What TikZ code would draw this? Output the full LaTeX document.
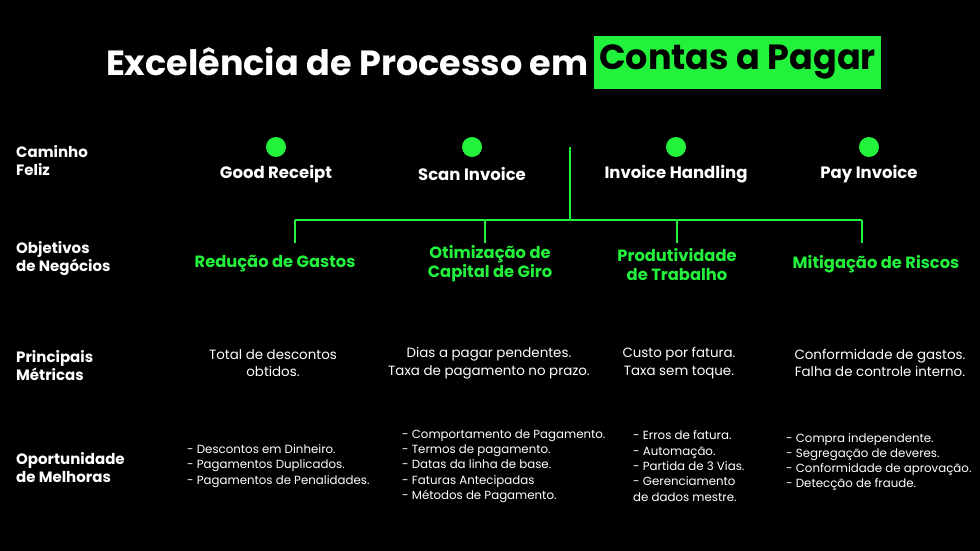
\documentclass[tikz,border=0pt]{standalone}
\usepackage{fontspec}
\setmainfont{Poppins}
\usepackage{tikz}
\definecolor{neon}{HTML}{22F23C}
\tikzset{
  row/.style={font=\bfseries\fontsize{15}{18}\selectfont, text=white, align=left, anchor=west, inner sep=0pt},
  step label/.style={font=\bfseries\fontsize{16.5}{20}\selectfont, text=white},
  goal/.style={font=\bfseries\fontsize{16.3}{19}\selectfont, text=neon, align=center},
  metric/.style={font=\fontsize{13.4}{17.5}\selectfont, text=white, align=center},
  todo/.style={font=\fontsize{11.8}{15.3}\selectfont, text=white, align=left, anchor=west, inner sep=0pt},
  dot/.style={circle, fill=neon, minimum size=20pt, inner sep=0pt},
  link/.style={neon, line width=1.5pt}
}
\begin{document}
\begin{tikzpicture}[x=1pt, y=-1pt]
  \fill[black] (0,0) rectangle (980,551);
  \useasboundingbox (0,0) rectangle (980,551);
  % title
  \fill[neon] (594,36) rectangle (881,89);
  \node[font=\bfseries\fontsize{35}{40}\selectfont, text=white, anchor=east] (title) at (592,62) {Excelência de Processo em};
  \node[font=\bfseries\fontsize{35}{40}\selectfont, text=black] (title-hl) at (737.5,62) {Contas a Pagar};
  % row headings
  \node[row] (h-path) at (16,161) {Caminho\\Feliz};
  \node[row] (h-goals) at (16,259) {Objetivos\\de Negócios};
  \node[row] (h-metrics) at (16,366) {Principais\\Métricas};
  \node[row] (h-ops) at (16,468) {Oportunidade\\de Melhoras};
  % happy path
  \foreach \x/\name/\txt in {276/gr/Good Receipt, 472/si/Scan Invoice, 676/ih/Invoice Handling, 869/pi/Pay Invoice} {
    \node[dot] (dot-\name) at (\x,147) {};
    \node[step label] (step-\name) at (\x,174) {\txt};
  }
  % tree
  \coordinate (top) at (570,147);
  \coordinate (hub) at (570,220);
  \foreach \x/\name in {295/a, 485/b, 677/c, 862/d}
    \coordinate (drop-\name) at (\x,243);
  \draw[link] (top) -- (hub);
  \draw[link] (drop-a |- hub) -- (drop-d |- hub);
  \foreach \name in {a,b,c,d}
    \draw[link] (drop-\name |- hub) -- (drop-\name);
  % goals
  \node[goal] (goal-a) at (275,264) {Redução de Gastos};
  \node[goal] (goal-b) at (490,264) {Otimização de\\Capital de Giro};
  \node[goal] (goal-c) at (677,265) {Produtividade\\de Trabalho};
  \node[goal] (goal-d) at (876,264) {Mitigação de Riscos};
  % metrics
  \node[metric] (met-a) at (273,363) {Total de descontos\\obtidos.};
  \node[metric] (met-b) at (489,363) {Dias a pagar pendentes.\\Taxa de pagamento no prazo.};
  \node[metric] (met-c) at (679,363) {Custo por fatura.\\Taxa sem toque.};
  \node[metric] (met-d) at (880,363) {Conformidade de gastos.\\Falha de controle interno.};
  % improvements
  \node[todo] (ops-a) at (187,466) {- Descontos em Dinheiro.\\- Pagamentos Duplicados.\\- Pagamentos de Penalidades.};
  \node[todo] (ops-b) at (402,466) {- Comportamento de Pagamento.\\- Termos de pagamento.\\- Datas da linha de base.\\- Faturas Antecipadas\\- Métodos de Pagamento.};
  \node[todo] (ops-c) at (633,466) {- Erros de fatura.\\- Automação.\\- Partida de 3 Vias.\\- Gerenciamento\\de dados mestre.};
  \node[todo] (ops-d) at (786,462) {- Compra independente.\\- Segregação de deveres.\\- Conformidade de aprovação.\\- Detecção de fraude.};
\end{tikzpicture}
\end{document}
